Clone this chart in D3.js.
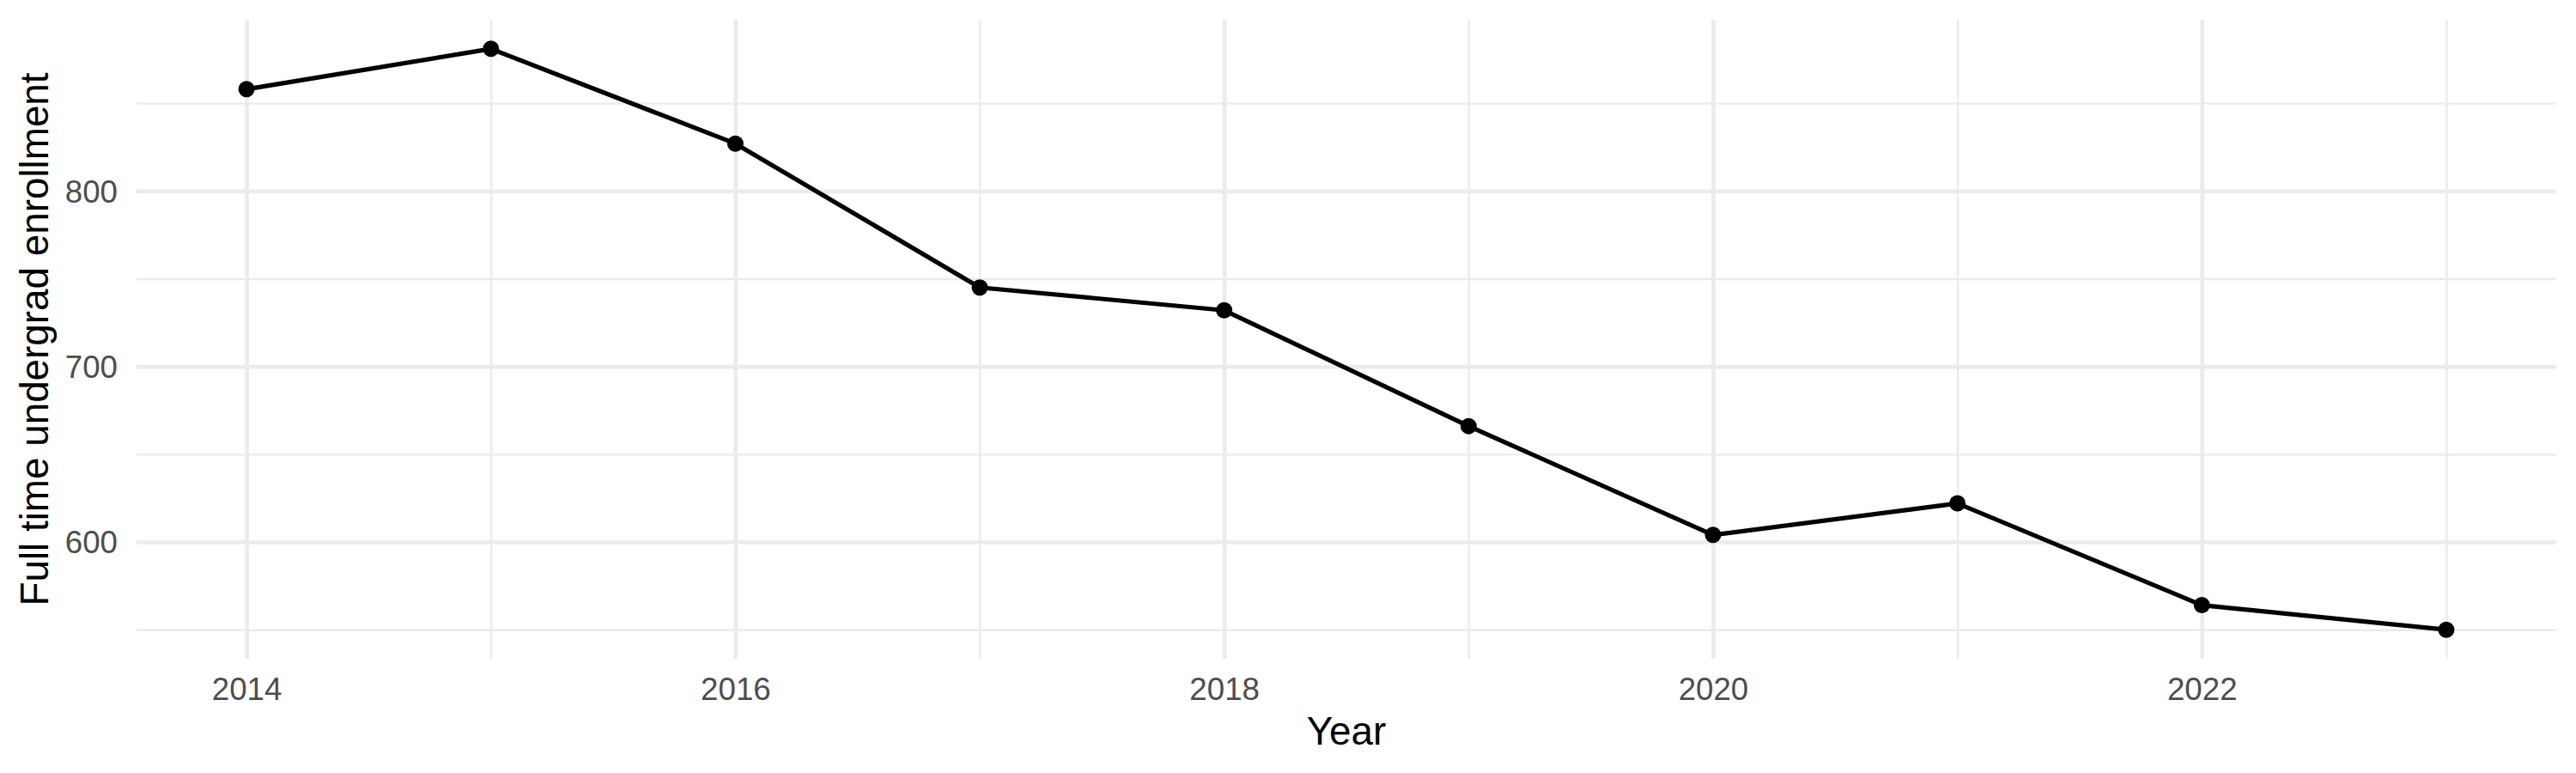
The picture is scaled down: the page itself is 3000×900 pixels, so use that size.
<!DOCTYPE html>
<html>
<head>
<meta charset="utf-8">
<script src="https://cdn.jsdelivr.net/npm/d3@7"></script>
<style>
  body { margin: 0; background: #fff; }
  text { font-family: "Liberation Sans", Arial, sans-serif; }
</style>
</head>
<body>
<script>
// data
const years = [2014, 2015, 2016, 2017, 2018, 2019, 2020, 2021, 2022, 2023];
const enrollment = [858, 881, 827, 745, 732, 666, 604, 622, 564, 550];
const xMajorTicks = [2014, 2016, 2018, 2020, 2022];
const xMinorTicks = [2015, 2017, 2019, 2021, 2023];
const yMajorTicks = [600, 700, 800];
const yMinorTicks = [550, 650, 750, 850];

const width = 3000;
const height = 900;
const margin = { top: 23, right: 23, bottom: 133, left: 159 };

const svg = d3.select("body")
  .append("svg")
  .attr("width", width)
  .attr("height", height);

// ggplot style 5% expansion on both axes
const xExt = d3.extent(years);
const xPad = (xExt[1] - xExt[0]) * 0.05;
const yExt = d3.extent(enrollment);
const yPad = (yExt[1] - yExt[0]) * 0.05;

const xScale = d3.scaleLinear()
  .domain([xExt[0] - xPad, xExt[1] + xPad])
  .range([margin.left, width - margin.right]);

const yScale = d3.scaleLinear()
  .domain([yExt[0] - yPad, yExt[1] + yPad])
  .range([height - margin.bottom, margin.top]);

const gridColor = "#EBEBEB";
const panelW = width - margin.left - margin.right;
const panelH = height - margin.top - margin.bottom;

// minor grid
svg.append("g")
  .attr("transform", `translate(0,${margin.top})`)
  .call(d3.axisBottom(xScale).tickValues(xMinorTicks).tickSize(panelH).tickFormat(""))
  .call(g => g.select(".domain").remove())
  .call(g => g.selectAll("line").attr("stroke", gridColor).attr("stroke-width", 2.4));

svg.append("g")
  .attr("transform", `translate(${margin.left},0)`)
  .call(d3.axisRight(yScale).tickValues(yMinorTicks).tickSize(panelW).tickFormat(""))
  .call(g => g.select(".domain").remove())
  .call(g => g.selectAll("line").attr("stroke", gridColor).attr("stroke-width", 2.4));

// major grid
svg.append("g")
  .attr("transform", `translate(0,${margin.top})`)
  .call(d3.axisBottom(xScale).tickValues(xMajorTicks).tickSize(panelH).tickFormat(""))
  .call(g => g.select(".domain").remove())
  .call(g => g.selectAll("line").attr("stroke", gridColor).attr("stroke-width", 4.6));

svg.append("g")
  .attr("transform", `translate(${margin.left},0)`)
  .call(d3.axisRight(yScale).tickValues(yMajorTicks).tickSize(panelW).tickFormat(""))
  .call(g => g.select(".domain").remove())
  .call(g => g.selectAll("line").attr("stroke", gridColor).attr("stroke-width", 4.6));

// tick labels
svg.append("g")
  .attr("transform", `translate(${margin.left - 22},0)`)
  .call(d3.axisLeft(yScale).tickValues(yMajorTicks).tickSize(0).tickPadding(0).tickFormat(d3.format("d")))
  .call(g => g.select(".domain").remove())
  .call(g => g.selectAll("text")
    .attr("fill", "#4D4D4D")
    .attr("font-size", 36.7)
    .attr("dy", "0.35em"));

svg.append("g")
  .attr("transform", `translate(0,${height - margin.bottom})`)
  .call(d3.axisBottom(xScale).tickValues(xMajorTicks).tickSize(0).tickPadding(0).tickFormat(d3.format("d")))
  .call(g => g.select(".domain").remove())
  .call(g => g.selectAll("text")
    .attr("fill", "#4D4D4D")
    .attr("font-size", 36.7)
    .attr("y", 48)
    .attr("dy", 0));

// axis titles
svg.append("text")
  .attr("x", margin.left + panelW / 2)
  .attr("y", 867)
  .attr("text-anchor", "middle")
  .attr("font-size", 45.8)
  .attr("fill", "#000")
  .text("Year");

svg.append("text")
  .attr("transform", `translate(56,${margin.top + panelH / 2}) rotate(-90)`)
  .attr("text-anchor", "middle")
  .attr("font-size", 45.8)
  .attr("fill", "#000")
  .text("Full time undergrad enrollment");

// line and points
const line = d3.line()
  .x((d, i) => xScale(years[i]))
  .y(d => yScale(d));

svg.append("path")
  .datum(enrollment)
  .attr("d", line)
  .attr("fill", "none")
  .attr("stroke", "#000")
  .attr("stroke-width", 5.2)
  .attr("stroke-linejoin", "round");

svg.selectAll("circle.pt")
  .data(enrollment)
  .enter()
  .append("circle")
    .attr("class", "pt")
    .attr("cx", (d, i) => xScale(years[i]))
    .attr("cy", d => yScale(d))
    .attr("r", 9.5)
    .attr("fill", "#000");
</script>
</body>
</html>
